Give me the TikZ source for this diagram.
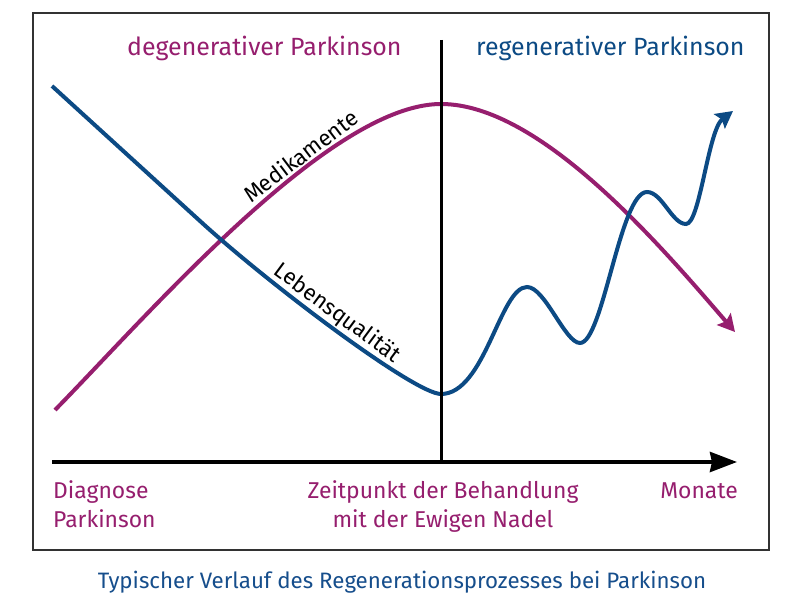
\documentclass[tikz,border=0pt]{standalone}
\usepackage{fontspec}
\setmainfont{Fira Sans}[Ligatures=NoCommon]
\usetikzlibrary{arrows.meta}
\definecolor{myPink}{RGB}{150,30,110}
\definecolor{myBlue}{RGB}{12,74,132}
\definecolor{capBlue}{RGB}{22,78,140}
\definecolor{frameGray}{RGB}{50,50,50}
\begin{document}
\begin{tikzpicture}[x=1bp,y=-1bp,
  txt/.style={inner sep=0pt},
  headfont/.style={font=\fontsize{24.9bp}{29bp}\selectfont},
  labfont/.style={font=\fontsize{22.9bp}{27bp}\selectfont},
  curvelab/.style={font=\fontsize{22.3bp}{25bp}\selectfont, text=black, inner sep=1.5bp},
  curve/.style={line width=4bp},
  curvetip/.style={-{Stealth[length=17bp,width=18bp,inset=3bp]}}
]
\useasboundingbox (0,0) rectangle (800,600);
\fill[white] (0,0) rectangle (800,600);
% frame
\coordinate (f1) at (33,13);
\coordinate (f2) at (769,550);
\draw[frameGray, line width=2bp] (f1) rectangle (f2);
% curves
\draw[myPink, curve, curvetip] (55,410)
  .. controls (150,313) and (330,104) .. (441,104)
  node[pos=0.655, sloped, above, curvelab] (med) {Medikamente}
  .. controls (540,104) and (660,245) .. (735,332);
\draw[myBlue, curve, curvetip] (52,86) -- (200,221)
  .. controls (270,285) and (415,394) .. (441,394)
  node[pos=0.47, sloped, above, curvelab] (leb) {Lebensqualität}
  .. controls (485,394) and (500,287) .. (527,287)
  .. controls (545,287) and (565,343) .. (580,343)
  .. controls (603,343) and (620,192) .. (647,192)
  .. controls (662,192) and (672,224) .. (686,224)
  .. controls (700,224) and (708,130) .. (733,111);
% vertical line and axis
\coordinate (vtop) at (441,40);
\coordinate (vbot) at (441,462);
\coordinate (ax0) at (52,462);
\coordinate (ax1) at (737,462);
\draw[black, line width=3bp] (vtop) -- (vbot);
\draw[black, line width=4bp, -{Stealth[length=27bp,width=20bp,inset=2bp]}] (ax0) -- (ax1);
% header texts
\node[txt, headfont, text=myPink, anchor=base west] (deg) at (127,56) {degenerativer Parkinson};
\node[txt, headfont, text=myBlue, anchor=base west] (reg) at (476,56) {regenerativer Parkinson};
% bottom labels
\node[txt, labfont, text=myPink, anchor=base west] (diag1) at (53,498) {Diagnose};
\node[txt, labfont, text=myPink, anchor=base west] (diag2) at (53,527) {Parkinson};
\node[txt, labfont, text=myPink, anchor=base] (zeit1) at (443,498) {Zeitpunkt der Behandlung};
\node[txt, labfont, text=myPink, anchor=base] (zeit2) at (443,527) {mit der Ewigen Nadel};
\node[txt, labfont, text=myPink, anchor=base east] (mon) at (738,498) {Monate};
% caption
\node[txt, font=\fontsize{22.3bp}{26bp}\selectfont, text=capBlue, anchor=base] (cap) at (402,588) {Typischer Verlauf des Regenerationsprozesses bei Parkinson};
\end{tikzpicture}
\end{document}
